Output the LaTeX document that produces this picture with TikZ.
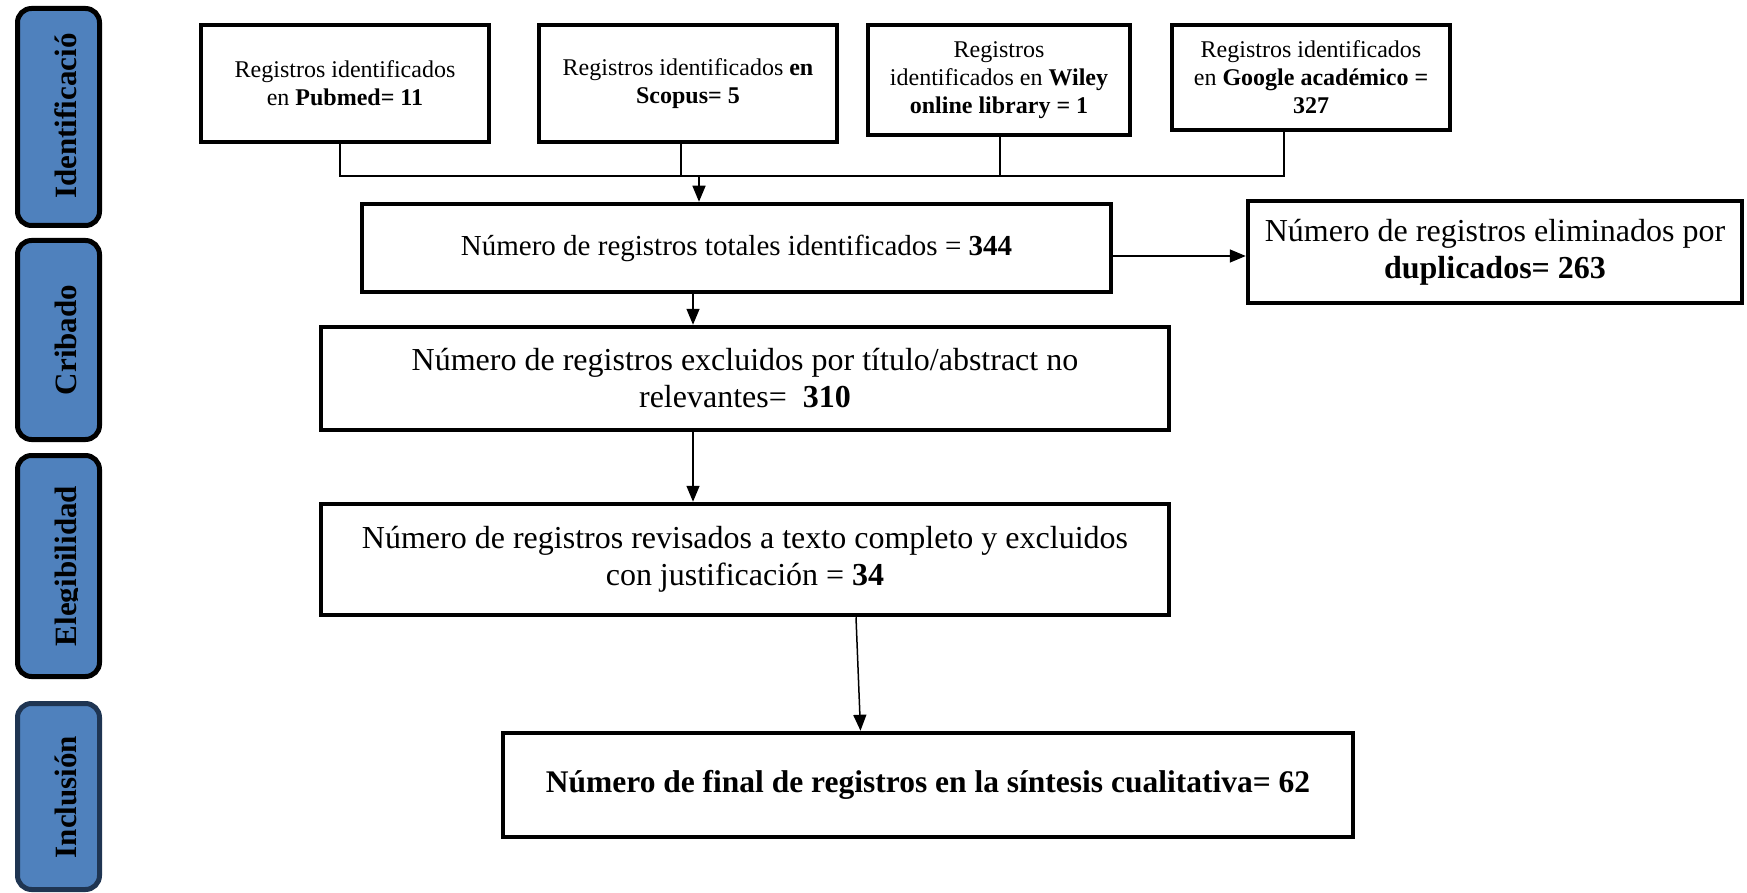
\documentclass[tikz,border=0pt]{standalone}
\usepackage{fontspec}
\setmainfont{Liberation Serif}
\usetikzlibrary{arrows.meta,calc}
\definecolor{sideblue}{HTML}{4F81BD}
\definecolor{sidenavy}{HTML}{1F3552}
\begin{document}
\begin{tikzpicture}[x=1pt,y=-1pt,
  box/.style={draw=black,line width=4.5pt,fill=white,inner sep=0pt,align=center},
  smallbox/.style={box,font=\fontsize{24}{28}\selectfont},
  bigbox/.style={box,font=\fontsize{32}{37}\selectfont},
  conn/.style={draw=black,line width=1.5pt},
  arr/.style={conn,-{Triangle[length=16pt,width=13pt]}},
  sidebox/.style={draw=black,line width=5pt,fill=sideblue,rounded corners=14pt,inner sep=0pt,minimum width=82pt},
  sidelabel/.style={rotate=90,anchor=base,inner sep=0pt,font=\fontsize{31}{36}\selectfont\bfseries}
]
\useasboundingbox (0,0) rectangle (1747,893);

% side phase boxes
\node[sidebox,minimum height=217pt] (s1) at (58.5,117) {};
\node[sidebox,minimum height=199pt] (s2) at (58.5,340) {};
\node[sidebox,minimum height=221pt] (s3) at (58.5,566) {};
\node[sidebox,draw=sidenavy,minimum height=186pt] (s4) at (58.5,796.5) {};
\node[sidelabel] (l1) at (76,116) {Identificació};
\node[sidelabel] (l2) at (76,340) {Cribado};
\begin{scope}
\clip (20,460) rectangle (77.5,672);
\node[sidelabel] (l3) at (76,566) {Elegibilidad};
\end{scope}
\node[sidelabel] (l4) at (76,797) {Inclusión};

% source boxes
\node[smallbox,minimum width=288pt,minimum height=117pt] (pub) at (345,83.5)
  {Registros identificados\\en \textbf{Pubmed= 11}};
\node[smallbox,minimum width=298pt,minimum height=117pt] (sco) at (688,83.5)
  {Registros identificados \textbf{en}\\\textbf{Scopus= 5}};
\node[smallbox,minimum width=262pt,minimum height=110pt] (wil) at (999,80)
  {Registros\\identificados en \textbf{Wiley}\\\textbf{online library = 1}};
\node[smallbox,minimum width=278pt,minimum height=105pt] (goo) at (1311,77.5)
  {Registros identificados\\en \textbf{Google académico =}\\\textbf{327}};

% main flow boxes
\node[box,font=\fontsize{29}{34}\selectfont,minimum width=749pt,minimum height=88pt] (tot) at (736.5,248)
  {Número de registros totales identificados = \textbf{344}};
\node[bigbox,minimum width=494pt,minimum height=102pt] (dup) at (1495,252)
  {Número de registros eliminados por\\\textbf{duplicados= 263}};
\node[bigbox,minimum width=848pt,minimum height=103pt] (exc) at (745,378.5)
  {Número de registros excluidos por título/abstract no\\relevantes=\ \ \textbf{310}};
\node[bigbox,minimum width=848pt,minimum height=111pt] (rev) at (745,559.5)
  {Número de registros revisados a texto completo y excluidos\\con justificación = \textbf{34}};
\node[box,font=\fontsize{31.5}{36}\selectfont\bfseries,minimum width=850pt,minimum height=104pt] (fin) at (928,785)
  {Número de final de registros en la síntesis cualitativa= 62};

% connectors
\coordinate (bus) at (699,176);
\draw[conn] ([xshift=-5pt]pub.south) |- (bus);
\draw[conn] ([xshift=-27pt]goo.south) |- (bus);
\draw[conn] ([xshift=-7pt]sco.south) -- ([xshift=-7pt]sco.south |- bus);
\draw[conn] ([xshift=1pt]wil.south) -- ([xshift=1pt]wil.south |- bus);
\draw[arr] (bus) -- (bus |- tot.north);
\draw[arr] ([yshift=-8pt]tot.east) -- ([yshift=-8pt]tot.east -| dup.west);
\draw[arr] ([xshift=-43.5pt]tot.south) -- ([xshift=-43.5pt]tot.south |- exc.north);
\draw[arr] ([xshift=-52pt]exc.south) -- ([xshift=-52pt]exc.south |- rev.north);
\draw[arr] ([xshift=111pt]rev.south) -- ([xshift=-67.5pt]fin.north);
\end{tikzpicture}
\end{document}
